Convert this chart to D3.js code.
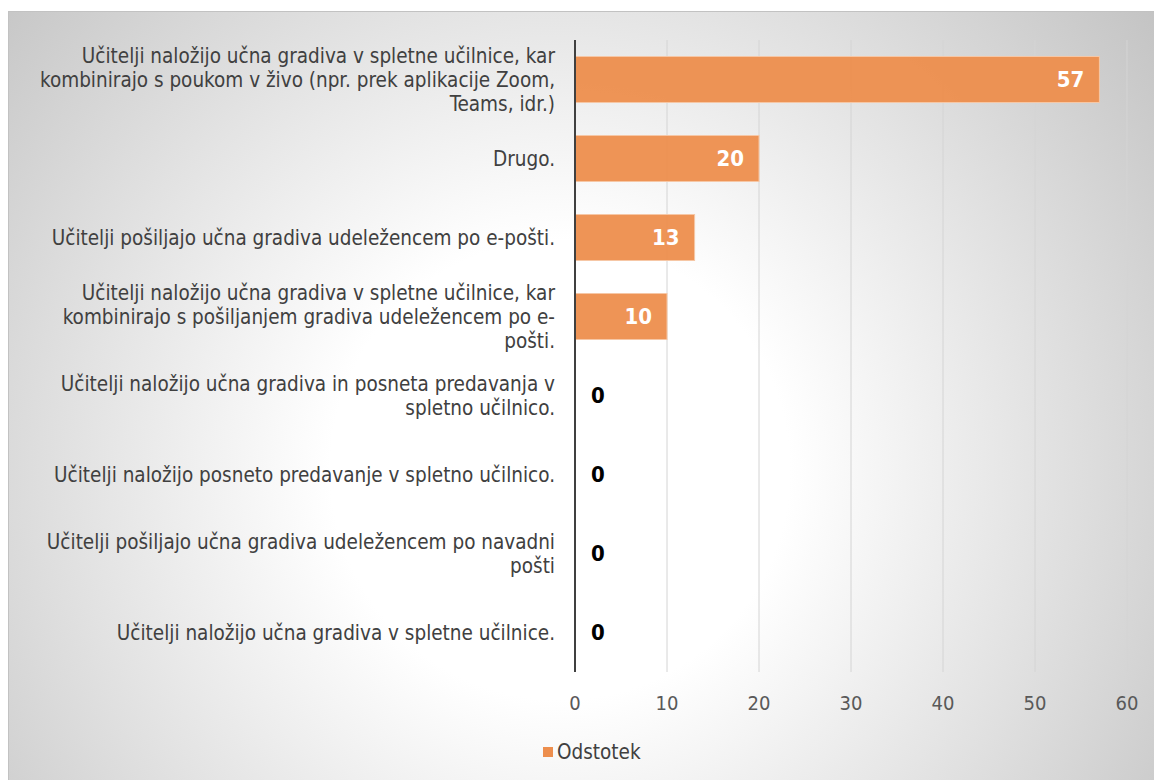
<!DOCTYPE html>
<html>
<head>
<meta charset="utf-8">
<script src="https://cdn.jsdelivr.net/npm/d3@7"></script>
<style>
  body { margin: 0; background: #fff; }
  svg { display: block; }
</style>
</head>
<body>
<script>
// categories top to bottom; "\n" marks the line breaks of the original labels
const categories = [
  "Učitelji naložijo učna gradiva v spletne učilnice, kar\nkombinirajo s poukom v živo (npr. prek aplikacije Zoom,\nTeams, idr.)",
  "Drugo.",
  "Učitelji pošiljajo učna gradiva udeležencem po e-pošti.",
  "Učitelji naložijo učna gradiva v spletne učilnice, kar\nkombinirajo s pošiljanjem gradiva udeležencem po e-\npošti.",
  "Učitelji naložijo učna gradiva in posneta predavanja v\nspletno učilnico.",
  "Učitelji naložijo posneto predavanje v spletno učilnico.",
  "Učitelji pošiljajo učna gradiva udeležencem po navadni\npošti",
  "Učitelji naložijo učna gradiva v spletne učilnice."
];
const values = [57, 20, 13, 10, 0, 0, 0, 0];
const xTicks = [0, 10, 20, 30, 40, 50, 60];
const seriesName = "Odstotek";

const width = 1154, height = 780;
const margin = {top: 40, right: 27, bottom: 108, left: 575};
const barColor = "#ED8E4D";
const font = "'DejaVu Sans Condensed', 'DejaVu Sans', sans-serif";

const svg = d3.select("body").append("svg")
    .attr("width", width)
    .attr("height", height);

const defs = svg.append("defs");
const grad = defs.append("radialGradient")
    .attr("id", "bg")
    .attr("gradientUnits", "userSpaceOnUse")
    .attr("cx", 560).attr("cy", 470).attr("r", 820);
grad.append("stop").attr("offset", "0%").attr("stop-color", "#ffffff");
grad.append("stop").attr("offset", "28%").attr("stop-color", "#ffffff");
grad.append("stop").attr("offset", "100%").attr("stop-color", "#bcbcbc");

svg.append("rect")
    .attr("x", 8.5).attr("y", 11.5)
    .attr("width", width).attr("height", height)
    .attr("fill", "url(#bg)")
    .attr("stroke", "#c2c2c2");

const x = d3.scaleLinear()
    .domain([0, 60])
    .range([margin.left, width - margin.right]);

const y = d3.scaleBand()
    .domain(d3.range(categories.length))
    .range([margin.top, height - margin.bottom])
    .paddingInner(0.418)
    .paddingOuter(0.209);

// vertical gridlines
svg.append("g")
  .selectAll("line")
  .data(xTicks.slice(1))
  .join("line")
    .attr("x1", d => x(d)).attr("x2", d => x(d))
    .attr("y1", margin.top).attr("y2", height - margin.bottom)
    .attr("stroke", "#d4d4d4")
    .attr("stroke-width", 1);

// bars
svg.append("g")
  .selectAll("rect")
  .data(values)
  .join("rect")
    .attr("x", x(0))
    .attr("y", (d, i) => y(i))
    .attr("width", d => x(d) - x(0))
    .attr("height", y.bandwidth())
    .attr("fill", barColor)
    .attr("fill-opacity", 0.95)
    .attr("stroke", "#f6c7a6")
    .attr("stroke-width", d => d > 0 ? 1 : 0);

// axis line
svg.append("line")
    .attr("x1", x(0)).attr("x2", x(0))
    .attr("y1", margin.top).attr("y2", height - margin.bottom)
    .attr("stroke", "#404040")
    .attr("stroke-width", 2);

// value labels
svg.append("g")
  .selectAll("text")
  .data(values)
  .join("text")
    .attr("x", d => d > 0 ? x(d) - 15 : x(d) + 16)
    .attr("y", (d, i) => y(i) + y.bandwidth() / 2)
    .attr("dy", "0.36em")
    .attr("text-anchor", d => d > 0 ? "end" : "start")
    .attr("font-family", font)
    .attr("font-weight", "bold")
    .attr("font-size", 22)
    .attr("fill", d => d > 0 ? "#ffffff" : "#000000")
    .text(d => d);

// category labels
const lineH = 24;
const catG = svg.append("g")
  .selectAll("text")
  .data(categories)
  .join("text")
    .attr("text-anchor", "end")
    .attr("font-family", font)
    .attr("font-size", 20.5)
    .attr("fill", "#404040")
    .attr("transform", (d, i) => `translate(${x(0) - 20},${y(i) + y.bandwidth() / 2})`);

catG.each(function(d) {
  const lines = d.split("\n");
  const t = d3.select(this);
  lines.forEach((ln, k) => {
    t.append("tspan")
      .attr("x", 0)
      .attr("y", (k - (lines.length - 1) / 2) * lineH)
      .attr("dy", "0.36em")
      .text(ln);
  });
});

// x axis tick labels
svg.append("g")
  .selectAll("text")
  .data(xTicks)
  .join("text")
    .attr("x", d => x(d))
    .attr("y", height - margin.bottom + 31)
    .attr("dy", "0.36em")
    .attr("text-anchor", "middle")
    .attr("font-family", font)
    .attr("font-size", 20)
    .attr("fill", "#595959")
    .text(d => d);

// legend
const legend = svg.append("g")
    .attr("transform", "translate(543,752)");
legend.append("rect")
    .attr("x", 0).attr("y", -5)
    .attr("width", 10).attr("height", 10)
    .attr("fill", barColor);
legend.append("text")
    .attr("x", 14)
    .attr("dy", "0.36em")
    .attr("font-family", font)
    .attr("font-size", 20.5)
    .attr("fill", "#404040")
    .text(seriesName);
</script>
</body>
</html>
